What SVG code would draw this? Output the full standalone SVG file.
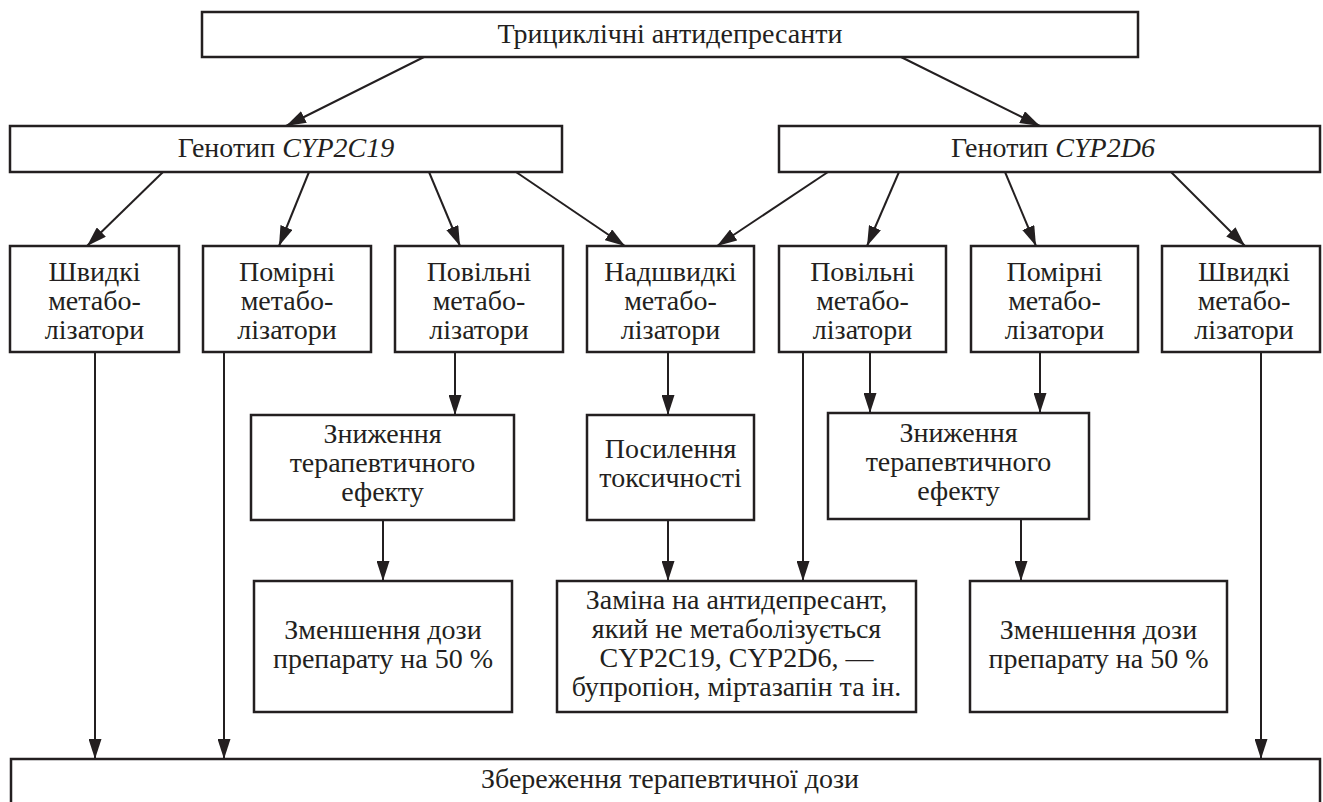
<svg xmlns="http://www.w3.org/2000/svg" width="1323" height="802" viewBox="0 0 1323 802">
<defs>
<marker id="ah" markerUnits="userSpaceOnUse" markerWidth="20" markerHeight="13" refX="20" refY="6.5" orient="auto">
<path d="M0,0 L20,6.5 L0,13 Z" fill="#231f20"/>
</marker>
<style>
.box{fill:#fff;stroke:#231f20;stroke-width:2.5}
text{font-family:'Liberation Serif','DejaVu Serif',serif;font-size:28px;fill:#231f20;text-anchor:middle}
.c{fill:none;stroke:#231f20;stroke-width:2;marker-end:url(#ah)}
</style>
</defs>
<rect width="1323" height="802" fill="#fff"/>
<g id="connectors">
<line class="c" x1="424" y1="57" x2="286" y2="126"/>
<line class="c" x1="901" y1="57" x2="1040" y2="126"/>
<line class="c" x1="163" y1="172" x2="87" y2="246"/>
<line class="c" x1="309" y1="172" x2="279" y2="246"/>
<line class="c" x1="429" y1="172" x2="460" y2="246"/>
<line class="c" x1="516" y1="172" x2="625" y2="246"/>
<line class="c" x1="828" y1="172" x2="717" y2="246"/>
<line class="c" x1="899" y1="172" x2="867" y2="246"/>
<line class="c" x1="1005" y1="172" x2="1036" y2="246"/>
<line class="c" x1="1171" y1="172" x2="1245" y2="246"/>
<line class="c" x1="95" y1="352" x2="95" y2="759"/>
<line class="c" x1="224" y1="352" x2="224" y2="759"/>
<line class="c" x1="1261" y1="352" x2="1261" y2="759"/>
<line class="c" x1="455" y1="352" x2="455" y2="415"/>
<line class="c" x1="668" y1="352" x2="668" y2="415"/>
<line class="c" x1="870" y1="352" x2="870" y2="413"/>
<line class="c" x1="1040" y1="352" x2="1040" y2="413"/>
<line class="c" x1="803" y1="352" x2="803" y2="581"/>
<line class="c" x1="383" y1="520" x2="383" y2="581"/>
<line class="c" x1="668" y1="520" x2="668" y2="581"/>
<line class="c" x1="1021" y1="519" x2="1021" y2="581"/>
</g>
<g id="top">
<rect class="box" x="202" y="12" width="936" height="45"/>
<text x="670" y="43">Трициклічні антидепресанти</text>
</g>
<g id="geno1">
<rect class="box" x="10" y="126" width="552" height="46"/>
<text x="286" y="157">Генотип <tspan font-style="italic">CYP2C19</tspan></text>
</g>
<g id="geno2">
<rect class="box" x="779" y="126" width="541" height="46"/>
<text x="1053" y="157">Генотип <tspan font-style="italic">CYP2D6</tspan></text>
</g>
<g id="fast1">
<rect class="box" x="10" y="246" width="169" height="106"/>
<text x="94.5" y="281">Швидкі</text>
<text x="94.5" y="310">метабо-</text>
<text x="94.5" y="339">лізатори</text>
</g>
<g id="mod1">
<rect class="box" x="203" y="246" width="168" height="106"/>
<text x="287" y="281">Помірні</text>
<text x="287" y="310">метабо-</text>
<text x="287" y="339">лізатори</text>
</g>
<g id="slow1">
<rect class="box" x="395" y="246" width="168" height="106"/>
<text x="479" y="281">Повільні</text>
<text x="479" y="310">метабо-</text>
<text x="479" y="339">лізатори</text>
</g>
<g id="ultra">
<rect class="box" x="587" y="246" width="167" height="106"/>
<text x="670.5" y="281">Надшвидкі</text>
<text x="670.5" y="310">метабо-</text>
<text x="670.5" y="339">лізатори</text>
</g>
<g id="slow2">
<rect class="box" x="779" y="246" width="167" height="106"/>
<text x="862.5" y="281">Повільні</text>
<text x="862.5" y="310">метабо-</text>
<text x="862.5" y="339">лізатори</text>
</g>
<g id="mod2">
<rect class="box" x="971" y="246" width="167" height="106"/>
<text x="1054.5" y="281">Помірні</text>
<text x="1054.5" y="310">метабо-</text>
<text x="1054.5" y="339">лізатори</text>
</g>
<g id="fast2">
<rect class="box" x="1162" y="246" width="158" height="106"/>
<text x="1244" y="281">Швидкі</text>
<text x="1244" y="310">метабо-</text>
<text x="1244" y="339">лізатори</text>
</g>
<g id="reduce1">
<rect class="box" x="251" y="415" width="263" height="105"/>
<text x="382.5" y="443">Зниження</text>
<text x="382.5" y="472">терапевтичного</text>
<text x="382.5" y="501">ефекту</text>
</g>
<g id="tox">
<rect class="box" x="587" y="415" width="167" height="105"/>
<text x="670.5" y="458">Посилення</text>
<text x="670.5" y="487">токсичності</text>
</g>
<g id="reduce2">
<rect class="box" x="828" y="413" width="261" height="106"/>
<text x="958.5" y="442">Зниження</text>
<text x="958.5" y="471">терапевтичного</text>
<text x="958.5" y="500">ефекту</text>
</g>
<g id="dose1">
<rect class="box" x="254" y="581" width="258" height="131"/>
<text x="383" y="639">Зменшення дози</text>
<text x="383" y="668">препарату на 50 %</text>
</g>
<g id="replace">
<rect class="box" x="557" y="581" width="359" height="131"/>
<text x="736.5" y="609">Заміна на антидепресант,</text>
<text x="736.5" y="638">який не метаболізується</text>
<text x="736.5" y="667">CYP2C19, CYP2D6, —</text>
<text x="736.5" y="696">бупропіон, міртазапін та ін.</text>
</g>
<g id="dose2">
<rect class="box" x="970" y="581" width="257" height="131"/>
<text x="1098.5" y="639">Зменшення дози</text>
<text x="1098.5" y="668">препарату на 50 %</text>
</g>
<g id="keep">
<rect class="box" x="11" y="759" width="1309" height="60"/>
<text x="670" y="788">Збереження терапевтичної дози</text>
</g>
</svg>
